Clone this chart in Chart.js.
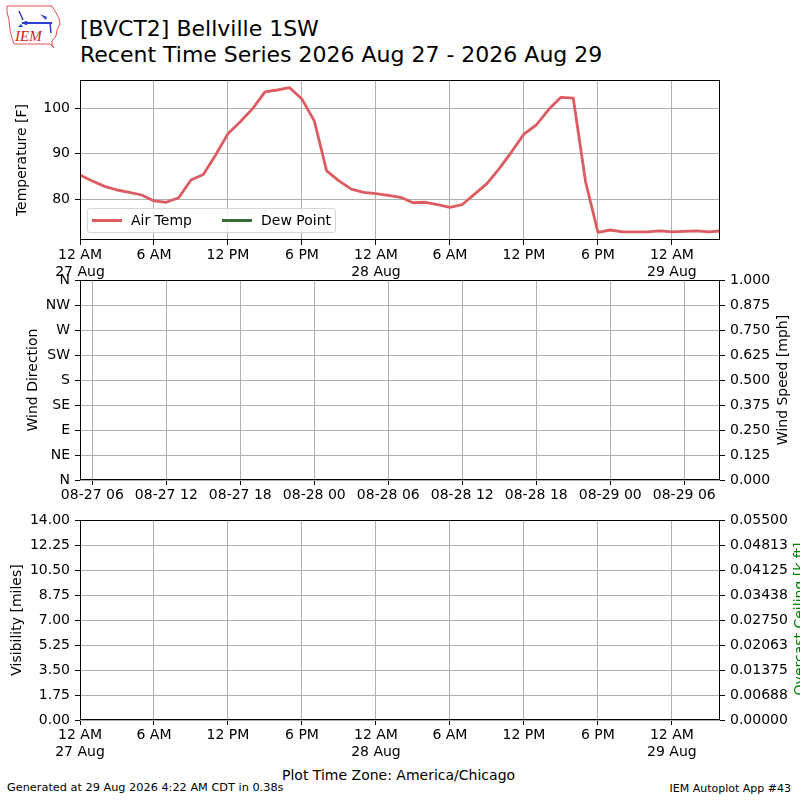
<!DOCTYPE html>
<html>
<head>
<meta charset="utf-8">
<title>[BVCT2] Bellville 1SW</title>
<script src="https://cdn.jsdelivr.net/npm/chart.js@4.4.1/dist/chart.umd.min.js"></script>
<style>
    body { margin: 0; background: #fff; font-family: "DejaVu Sans", sans-serif; color: #000; }
    #page { position: relative; width: 800px; height: 800px; overflow: hidden; background: #fff; }
    .panel { position: absolute; left: 0; width: 800px; }
    #title { position: absolute; left: 80px; top: 16px; font-size: 22px; line-height: 26px; white-space: nowrap; }
    .rtitle { position: absolute; font-size: 14px; line-height: 16px; white-space: nowrap;
              transform: translate(-50%, -50%) rotate(-90deg); }
    #legend { position: absolute; left: 87px; top: 208px; width: 247px; height: 23px;
              border: 1px solid #d5d5d5; border-radius: 3px; background: rgba(255,255,255,0.8);
              font-size: 14px; z-index: 5; }
    #legend .item { position: absolute; top: 0; height: 23px; line-height: 23px; white-space: nowrap; }
    #legend .swatch { position: absolute; top: 10px; width: 30px; height: 3px; }
    #legend .label { position: absolute; left: 39px; }
    #tz { position: absolute; left: 282px; top: 767px; font-size: 14px; line-height: 16px; white-space: nowrap; }
    #gen { position: absolute; left: 7px; top: 781px; font-size: 11.3px; line-height: 13px; white-space: nowrap; }
    #app { position: absolute; right: 9px; top: 782px; font-size: 11px; line-height: 13px; white-space: nowrap; }
</style>
</head>
<body>
<div id="page">
    <svg style="position:absolute;left:0;top:0" width="70" height="56" viewBox="0 0 70 56">
        <path d="M7 6 L52 6 L55 11 L59 18 L60 24 L57 30 L56 36 L52 41 L52 45 L54 48 L50 44 L14 44 L12 38 L10 30 L9 20 L7 12 Z"
              fill="none" stroke="#e05050" stroke-width="1"/>
        <line x1="19" y1="11" x2="23" y2="20" stroke="#2b3fd0" stroke-width="1.5"/>
        <line x1="22" y1="23" x2="52" y2="23" stroke="#2b3fd0" stroke-width="2"/>
        <circle cx="26" cy="23" r="2" fill="#2b3fd0"/>
        <path d="M40 14 L47 17 L46 20 Z" fill="#2b3fd0"/>
        <path d="M18 27 L21 24 L23 27 Z" fill="#2b3fd0"/>
        <line x1="50" y1="23" x2="51" y2="33" stroke="#2b3fd0" stroke-width="1.5"/>
        <text x="15" y="41" font-family="Liberation Serif, serif" font-style="italic" font-size="15" fill="#d42020">IEM</text>
    </svg>
    <div id="title">[BVCT2] Bellville 1SW<br>Recent Time Series 2026 Aug 27 - 2026 Aug 29</div>

    <div class="panel" style="top:70px;height:210px"><canvas id="tempChart"></canvas></div>
    <div class="panel" style="top:270px;height:250px"><canvas id="windChart"></canvas></div>
    <div class="panel" style="top:510px;height:250px"><canvas id="visChart"></canvas></div>

    <div id="legend"></div>
    <div class="rtitle" style="left:782px;top:380px">Wind Speed [mph]</div>
    <div class="rtitle" style="left:799px;top:619px;color:#008000">Overcast Ceiling [k ft]</div>

    <div id="tz">Plot Time Zone: America/Chicago</div>
    <div id="gen">Generated at 29 Aug 2026 4:22 AM CDT in 0.38s</div>
    <div id="app">IEM Autoplot App #43</div>
</div>

<script>
// hours since 27 Aug 2026 12 AM CDT
const hoursCDT = [0, 1, 2, 3, 4, 5, 6, 7, 8, 9, 10, 11, 12, 13, 14, 15, 16, 17, 18, 19,
    20, 21, 22, 23, 24, 25, 26, 27, 28, 29, 30, 31, 32, 33, 34, 35, 36, 37, 38, 39,
    40, 41, 42, 43, 44, 45, 46, 47, 48, 49, 50, 51, 52];
const airTemp = [85.3, 84.0, 82.8, 82.0, 81.5, 80.9, 79.6, 79.3, 80.3, 84.2, 85.4, 89.7, 94.4, 97.0, 99.9, 103.6, 104.0, 104.5, 102.0, 97.2,
    86.2, 84.0, 82.2, 81.5, 81.2, 80.8, 80.4, 79.2, 79.3, 78.8, 78.2, 78.8, 81.1, 83.4, 86.7, 90.4, 94.3, 96.3, 99.7, 102.4,
    102.2, 83.8, 72.7, 73.2, 72.8, 72.8, 72.8, 73.0, 72.8, 72.9, 73.0, 72.8, 73.0];
const dewPoint = [];
const windDir = [];
const windSpeed = [];
const visibility = [];
const ceiling = [];

const timeTicks = [0, 6, 12, 18, 24, 30, 36, 42, 48];
const timeTickLabels = [["12 AM", "27 Aug"], "6 AM", "12 PM", "6 PM", ["12 AM", "28 Aug"], "6 AM", "12 PM", "6 PM", ["12 AM", "29 Aug"]];
const utcTicks = [1, 7, 13, 19, 25, 31, 37, 43, 49];
const utcTickLabels = ["08-27 06", "08-27 12", "08-27 18", "08-28 00", "08-28 06", "08-28 12", "08-28 18", "08-29 00", "08-29 06"];
const tempTicks = [80, 90, 100];
const dirTicks = [0, 45, 90, 135, 180, 225, 270, 315, 360];
const dirTickLabels = ["N", "NE", "E", "SE", "S", "SW", "W", "NW", "N"];
const speedTicks = [0, 0.125, 0.25, 0.375, 0.5, 0.625, 0.75, 0.875, 1];
const speedTickLabels = ["0.000", "0.125", "0.250", "0.375", "0.500", "0.625", "0.750", "0.875", "1.000"];
const visTicks = [0, 1.75, 3.5, 5.25, 7, 8.75, 10.5, 12.25, 14];
const visTickLabels = ["0.00", "1.75", "3.50", "5.25", "7.00", "8.75", "10.50", "12.25", "14.00"];
const ceilTicks = [0, 0.006875, 0.01375, 0.020625, 0.0275, 0.034375, 0.04125, 0.048125, 0.055];
const ceilTickLabels = ["0.00000", "0.00688", "0.01375", "0.02063", "0.02750", "0.03438", "0.04125", "0.04813", "0.05500"];

const X_MIN = 0, X_MAX = 51.9;

Chart.defaults.font.family = "DejaVu Sans";
Chart.defaults.font.size = 14;
Chart.defaults.color = "#000";
Chart.defaults.animation = false;
Chart.defaults.plugins.legend.display = false;
Chart.defaults.plugins.tooltip.enabled = false;

const framePlugin = {
    id: "frame",
    afterDraw(chart) {
        const { ctx, chartArea: a } = chart;
        ctx.save();
        ctx.strokeStyle = "#000";
        ctx.lineWidth = 1;
        ctx.strokeRect(Math.round(a.left) + 0.5, Math.round(a.top) + 0.5,
            Math.round(a.right - a.left) - 1, Math.round(a.bottom - a.top) - 1);
        ctx.restore();
    }
};

function axis(values, labels, extra) {
    return Object.assign({
        type: "linear",
        afterBuildTicks: s => { s.ticks = values.map(v => ({ value: v })); },
        ticks: { callback: (v, i) => labels[i], autoSkip: false, maxRotation: 0, padding: 5 },
        grid: { color: "#b0b0b0", lineWidth: 1, tickLength: 5, tickColor: "#000", tickWidth: 1 },
        border: { display: false }
    }, extra);
}

function xAxis(values, labels) {
    const a = axis(values, labels, { min: X_MIN, max: X_MAX, afterFit: s => { s.height = 40; } });
    a.ticks.padding = 2;
    return a;
}

// fixed 80px side axes; drop the label overhang padding so the layout padding decides the top
function sideFit(s) {
    s.width = 80;
    s.paddingTop = 0;
    s.paddingBottom = 0;
}

function leftAxis(values, labels, title, pad, extra) {
    return axis(values, labels, Object.assign({
        position: "left",
        afterFit: sideFit,
        title: { display: true, text: title, padding: { top: pad, bottom: 0 }, font: { size: 14 } }
    }, extra));
}

function rightAxis(values, labels, extra) {
    const a = axis(values, labels, Object.assign({ position: "right", afterFit: sideFit }, extra));
    a.grid.drawOnChartArea = false;
    return a;
}

const baseOptions = (scales, padRight) => ({
    responsive: true,
    maintainAspectRatio: false,
    layout: { padding: { top: 10, right: padRight, left: 0, bottom: 0 } },
    scales: scales
});

const tempChart = new Chart(document.getElementById("tempChart"), {
    type: "line",
    data: {
        datasets: [
            {
                label: "Air Temp",
                data: hoursCDT.map((h, i) => ({ x: h, y: airTemp[i] })),
                borderColor: "#dd5c62",
                borderWidth: 2.8,
                pointRadius: 0,
                tension: 0,
                borderJoinStyle: "round"
            },
            {
                label: "Dew Point",
                data: dewPoint,
                borderColor: "#386f38",
                borderWidth: 2.8,
                pointRadius: 0
            }
        ]
    },
    options: baseOptions({
        x: xAxis(timeTicks, timeTickLabels),
        y: leftAxis(tempTicks, tempTicks.map(String), "Temperature [F]", 13.5, { min: 71, max: 106.2 })
    }, 80),
    plugins: [framePlugin]
});

new Chart(document.getElementById("windChart"), {
    type: "line",
    data: {
        datasets: [
            { label: "Wind Direction", data: windDir, yAxisID: "y" },
            { label: "Wind Speed", data: windSpeed, yAxisID: "y2" }
        ]
    },
    options: baseOptions({
        x: xAxis(utcTicks, utcTickLabels),
        y: leftAxis(dirTicks, dirTickLabels, "Wind Direction", 24.5, { min: 0, max: 360 }),
        y2: rightAxis(speedTicks, speedTickLabels, { min: 0, max: 1 })
    }, 0),
    plugins: [framePlugin]
});

new Chart(document.getElementById("visChart"), {
    type: "line",
    data: {
        datasets: [
            { label: "Visibility", data: visibility, yAxisID: "y" },
            { label: "Overcast Ceiling", data: ceiling, yAxisID: "y2" }
        ]
    },
    options: baseOptions({
        x: xAxis(timeTicks, timeTickLabels),
        y: leftAxis(visTicks, visTickLabels, "Visibility [miles]", 8.5, { min: 0, max: 14 }),
        y2: rightAxis(ceilTicks, ceilTickLabels, { min: 0, max: 0.055 })
    }, 0),
    plugins: [framePlugin]
});

// legend for the temperature panel, built from its datasets
const legendEl = document.getElementById("legend");
const legendLeft = [4, 134];
tempChart.data.datasets.forEach((ds, i) => {
    const item = document.createElement("div");
    item.className = "item";
    item.style.left = legendLeft[i] + "px";
    const sw = document.createElement("div");
    sw.className = "swatch";
    sw.style.background = ds.borderColor;
    const lb = document.createElement("div");
    lb.className = "label";
    lb.textContent = ds.label;
    item.appendChild(sw);
    item.appendChild(lb);
    legendEl.appendChild(item);
});
</script>
</body>
</html>
